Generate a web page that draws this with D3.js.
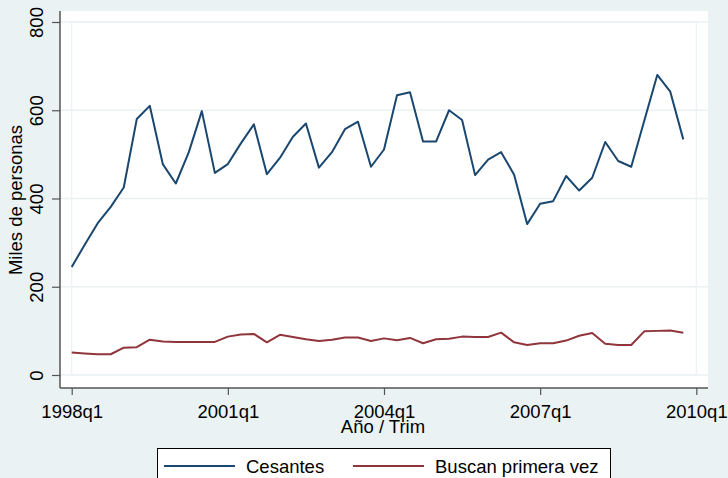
<!DOCTYPE html>
<html>
<head>
<meta charset="utf-8">
<script src="https://cdn.jsdelivr.net/npm/d3@7"></script>
<style>
  body { margin: 0; background: #eaf2f3; }
  svg text { font-family: "Liberation Sans", Arial, sans-serif; fill: #000; }
</style>
</head>
<body>
<script>
const width = 728;
const height = 478;

// quarters 1998q1 .. 2009q4
const quarters = [
  "1998q1","1998q2","1998q3","1998q4","1999q1","1999q2","1999q3","1999q4",
  "2000q1","2000q2","2000q3","2000q4","2001q1","2001q2","2001q3","2001q4",
  "2002q1","2002q2","2002q3","2002q4","2003q1","2003q2","2003q3","2003q4",
  "2004q1","2004q2","2004q3","2004q4","2005q1","2005q2","2005q3","2005q4",
  "2006q1","2006q2","2006q3","2006q4","2007q1","2007q2","2007q3","2007q4",
  "2008q1","2008q2","2008q3","2008q4","2009q1","2009q2","2009q3","2009q4"
];

const cesantes = [
  245, 295, 344, 381, 425, 580, 610, 478,
  434, 505, 598, 458, 478, 525, 568, 455,
  492, 540, 570, 470, 505, 557, 574, 472,
  511, 634, 641, 529, 529, 600, 578, 453,
  488, 505, 454, 342, 388, 394, 451, 418,
  447, 528, 485, 472, 576, 680, 642, 534
];

const buscan = [
  51, 49, 47, 47, 62, 63, 80, 76,
  75, 75, 75, 75, 87, 92, 93, 74,
  91, 86, 81, 77, 80, 85, 85, 77,
  83, 79, 84, 72, 81, 82, 87, 86,
  86, 96, 74, 68, 72, 72, 78, 89,
  95, 71, 68, 68, 99, 100, 101, 96
];

const yTicks = [0, 200, 400, 600, 800];
const xTickLabels = ["1998q1", "2001q1", "2004q1", "2007q1", "2010q1"];
const seriesNames = ["Cesantes", "Buscan primera vez"];
const seriesColors = ["#1a476f", "#90353b"];

const svg = d3.select("body")
  .append("svg")
  .attr("width", width)
  .attr("height", height);

svg.append("rect")
  .attr("width", width)
  .attr("height", height)
  .attr("fill", "#eaf2f3");

// plot region
const regLeft = 60, regRight = 708, regTop = 11, regBottom = 388;
svg.append("rect")
  .attr("x", regLeft)
  .attr("y", regTop)
  .attr("width", regRight - regLeft)
  .attr("height", regBottom - regTop)
  .attr("fill", "#fff");

const xScale = d3.scaleLinear()
  .domain([0, 48])
  .range([71.7, 696.3]);
const yScale = d3.scaleLinear()
  .domain([0, 800])
  .range([375, 22]);

// gridlines
svg.append("g")
  .selectAll("line")
  .data(yTicks)
  .enter()
  .append("line")
  .attr("x1", regLeft)
  .attr("x2", regRight)
  .attr("y1", d => yScale(d))
  .attr("y2", d => yScale(d))
  .attr("stroke", "#eaf2f3")
  .attr("stroke-width", 1.5);

svg.append("rect")
  .attr("x", xScale(0))
  .attr("y", yScale(800))
  .attr("width", xScale(48) - xScale(0))
  .attr("height", yScale(0) - yScale(800))
  .attr("fill", "none")
  .attr("stroke", "#eaf2f3")
  .attr("stroke-width", 1.2);

// y axis
const yAxis = d3.axisLeft(yScale)
  .tickValues(yTicks)
  .tickSize(8)
  .tickSizeOuter(0);
const gy = svg.append("g")
  .attr("transform", `translate(${regLeft}, 0)`)
  .call(yAxis);
gy.select(".domain").remove();
gy.selectAll(".tick line").attr("stroke", "#555").attr("stroke-width", 1.2);
gy.selectAll(".tick text")
  .attr("x", null)
  .attr("dy", null)
  .attr("text-anchor", "middle")
  .attr("transform", "translate(-17, 0) rotate(-90)")
  .style("font-size", "18.5px");

// x axis
const xAxis = d3.axisBottom(xScale)
  .tickValues([0, 12, 24, 36, 48])
  .tickFormat((d, i) => xTickLabels[i])
  .tickSize(7)
  .tickSizeOuter(0);
const gx = svg.append("g")
  .attr("transform", `translate(0, ${regBottom})`)
  .call(xAxis);
gx.select(".domain").remove();
gx.selectAll(".tick line").attr("stroke", "#555").attr("stroke-width", 1.2);
gx.selectAll(".tick text")
  .attr("y", 30)
  .attr("dy", null)
  .style("font-size", "18.5px");

// axis lines
svg.append("line")
  .attr("x1", regLeft).attr("x2", regLeft)
  .attr("y1", regTop).attr("y2", regBottom)
  .attr("stroke", "#555").attr("stroke-width", 1.5);
svg.append("line")
  .attr("x1", regLeft).attr("x2", regRight)
  .attr("y1", regBottom).attr("y2", regBottom)
  .attr("stroke", "#555").attr("stroke-width", 1.5);

// axis titles
svg.append("text")
  .attr("transform", "translate(22, 200) rotate(-90)")
  .attr("text-anchor", "middle")
  .style("font-size", "18.5px")
  .text("Miles de personas");
svg.append("text")
  .attr("x", 383)
  .attr("y", 433)
  .attr("text-anchor", "middle")
  .style("font-size", "18.5px")
  .text("Año / Trim");

// lines
const line = d3.line()
  .x((d, i) => xScale(i))
  .y(d => yScale(d));

[cesantes, buscan].forEach(function(s, k) {
  svg.append("path")
    .datum(s)
    .attr("d", line)
    .attr("fill", "none")
    .attr("stroke", seriesColors[k])
    .attr("stroke-width", 2)
    .attr("stroke-linejoin", "round");
});

// legend
svg.append("rect")
  .attr("x", 157.5)
  .attr("y", 448.5)
  .attr("width", 453)
  .attr("height", 40)
  .attr("fill", "#fff")
  .attr("stroke", "#000")
  .attr("stroke-width", 1);

const legendX = [164, 353];
const legend = svg.append("g")
  .selectAll("g")
  .data(seriesNames)
  .enter()
  .append("g")
  .attr("transform", (d, i) => `translate(${legendX[i]}, 466)`);
legend.append("line")
  .attr("x1", 0).attr("x2", 71)
  .attr("stroke", (d, i) => seriesColors[i])
  .attr("stroke-width", 2);
legend.append("text")
  .attr("x", 82)
  .attr("y", 7)
  .style("font-size", "18.5px")
  .text(d => d);
</script>
</body>
</html>
